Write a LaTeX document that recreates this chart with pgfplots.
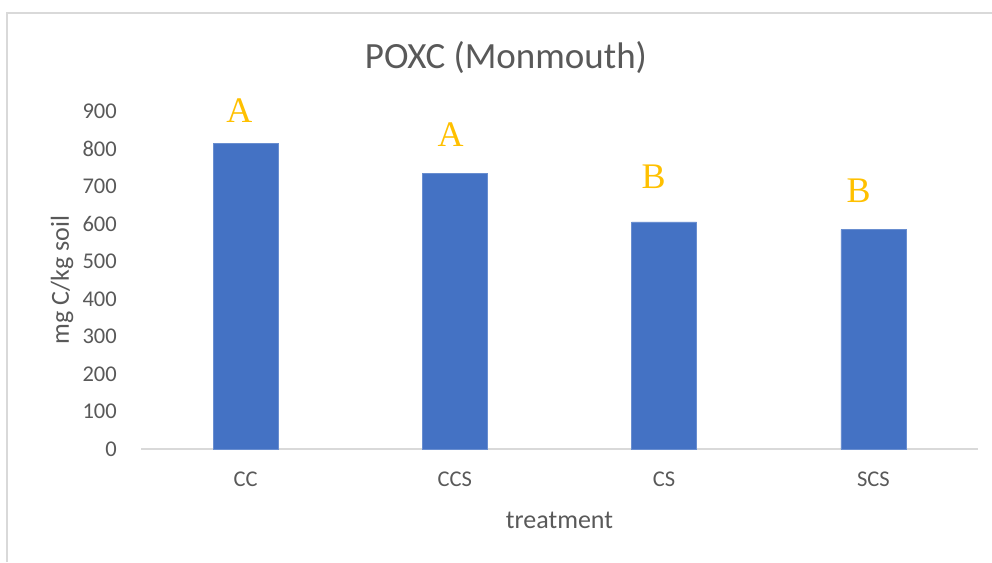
\documentclass[border=0pt]{standalone}
\usepackage{pgfplots}
\pgfplotsset{compat=1.18}
\usepackage{fontspec}
\setmainfont{Carlito}
\newfontfamily\letterfont{Liberation Serif}
\definecolor{barblue}{HTML}{4472C4}
\definecolor{gold}{HTML}{FFC000}
\definecolor{txtgray}{HTML}{595959}
\definecolor{linegray}{HTML}{D9D9D9}
\begin{document}
\begin{tikzpicture}[x=1pt,y=1pt]
\useasboundingbox (0,0) rectangle (992,562);
\draw[linegray, line width=1.2pt] (7,0) -- (7,549) -- (992,549);
\node[txtgray, font=\fontsize{37}{40}\selectfont] at (506,504) {POXC (Monmouth)};
\begin{axis}[
  at={(141pt,113pt)}, anchor=south west,
  width=837pt, height=338pt, scale only axis,
  xmin=-0.5, xmax=3.5, ymin=0, ymax=900,
  ybar, bar width=65pt,
  xtick=data, xticklabels={CC,CCS,CS,SCS},
  ytick={0,100,...,900},
  axis lines=left,
  x axis line style={-, draw=linegray, line width=1.5pt},
  y axis line style={draw=none},
  major tick length=0pt,
  tick style={draw=none},
  /pgf/number format/assume math mode=true,
  ticklabel style={font=\fontsize{22.5}{24}\selectfont, text=txtgray},
  yticklabel style={anchor=east, inner sep=0pt, xshift=-24pt},
  xticklabel style={anchor=north, inner sep=0pt, yshift=-23pt},
  xlabel={treatment},
  ylabel={mg C/kg soil},
  label style={font=\fontsize{26}{28}\selectfont, text=txtgray},
  xlabel style={at={(axis description cs:0.5,0)}, anchor=center, yshift=-71pt},
  ylabel style={at={(axis description cs:0,0.5)}, anchor=center, yshift=79pt},
  clip=false,
]
\addplot[fill=barblue, draw=barblue!80!white] coordinates {(0,814) (1,734) (2,605) (3,584)};
\node[gold, font=\letterfont\fontsize{36}{38}\selectfont] at (axis cs:-0.03,902) {A};
\node[gold, font=\letterfont\fontsize{36}{38}\selectfont] at (axis cs:0.98,837) {A};
\node[gold, font=\letterfont\fontsize{36}{38}\selectfont] at (axis cs:1.95,724) {B};
\node[gold, font=\letterfont\fontsize{36}{38}\selectfont] at (axis cs:2.93,687) {B};
\end{axis}
\end{tikzpicture}
\end{document}
